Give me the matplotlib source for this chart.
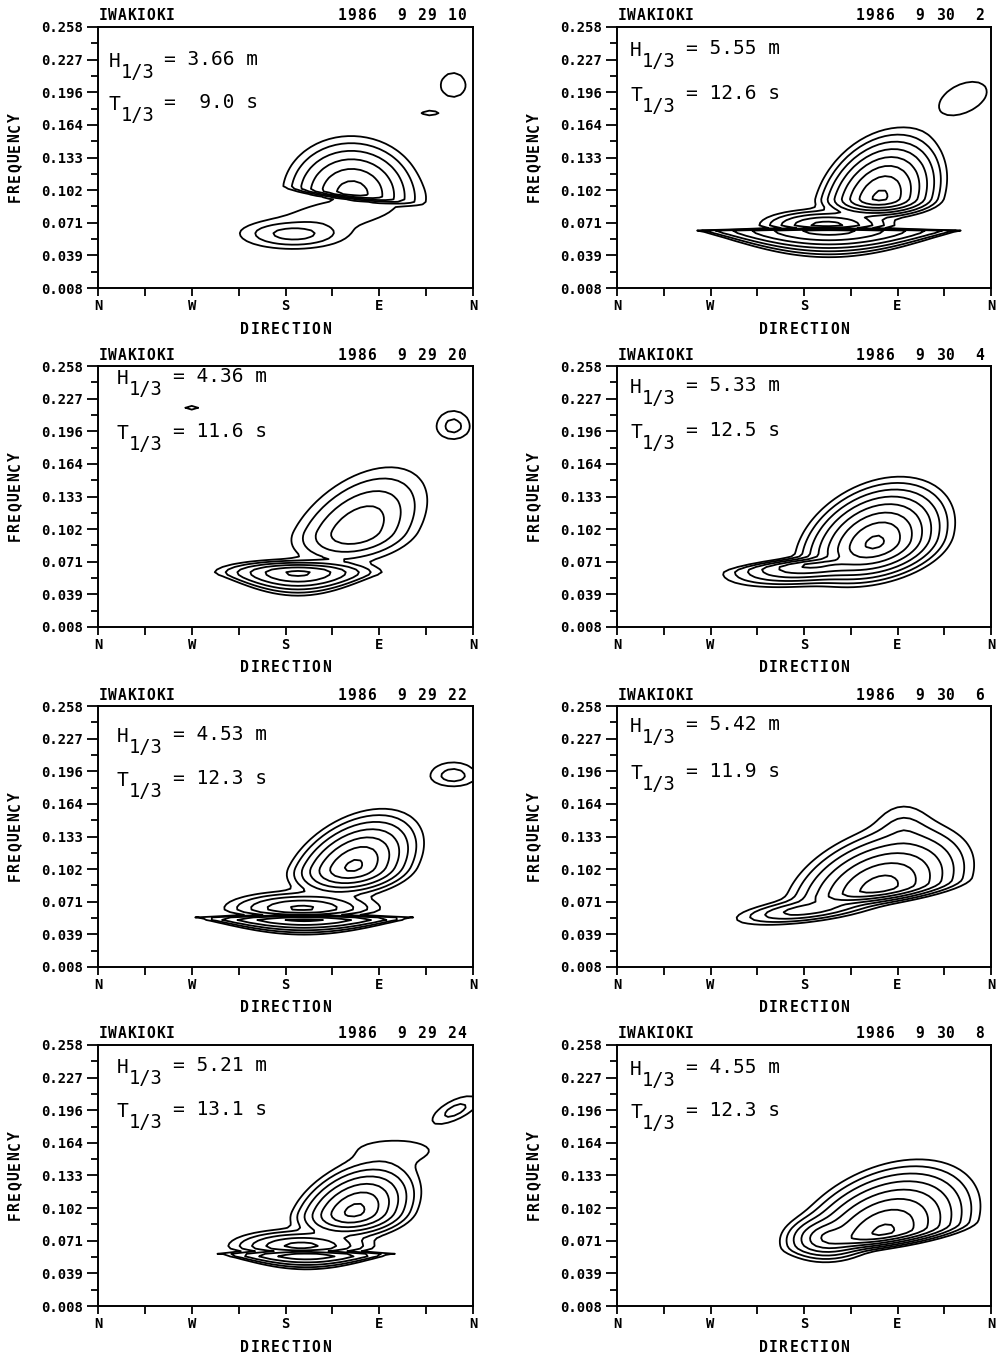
import numpy as np
import matplotlib
matplotlib.use("Agg")
import matplotlib.pyplot as plt

MONO = "DejaVu Sans Mono"
plt.rcParams["font.family"] = MONO
plt.rcParams["font.weight"] = "bold"

station = "IWAKIOKI"
# (month, day, hour) of each record, reading order
stamps = [(9, 29, 10), (9, 30, 2), (9, 29, 20), (9, 30, 4),
          (9, 29, 22), (9, 30, 6), (9, 29, 24), (9, 30, 8)]
h13 = [3.66, 5.55, 4.36, 5.33, 4.53, 5.42, 5.21, 4.55]
t13 = [9.0, 12.6, 11.6, 12.5, 12.3, 11.9, 13.1, 12.3]

freq_ticks = ["0.008", "0.039", "0.071", "0.102", "0.133",
              "0.164", "0.196", "0.227", "0.258"]
dir_ticks = ["N", "W", "S", "E", "N"]

# spectral peaks of each record: direction (deg, N-W-S-E-N), frequency (Hz),
# height in contour steps, reach of the outer contour in direction / above / below,
# lean (deg per Hz), tilt (Hz per deg), pinch half-width (deg) of low-frequency lens
peak_dir = [[244, 188, 232, 341, 318],
            [253, 202, 204, 333],
            [192, 248, 341, 90],
            [248, 190],
            [245, 196, 198, 341],
            [252, 185, 276],
            [246, 285, 195, 200, 343],
            [256, 205]]
peak_freq = [[0.098, 0.060, 0.079, 0.202, 0.1755],
             [0.094, 0.068, 0.0635, 0.189],
             [0.060, 0.100, 0.200, 0.218],
             [0.088, 0.068],
             [0.1036, 0.064, 0.055, 0.191],
             [0.083, 0.063, 0.135],
             [0.098, 0.157, 0.065, 0.0576, 0.195],
             [0.078, 0.074]]
peak_level = [[5.6, 2.6, 0.9, 0.6, 0.3],
              [7.3, 4.5, 6.5, 0.6],
              [5.3, 3.97, 1.5, 0.3],
              [7.3, 5.3],
              [6.3, 4.3, 5.5, 1.6],
              [6.6, 3.8, 1.6],
              [6.4, 0.7, 4.5, 5.0, 1.5],
              [7.3, 5.2]]
reach_dir = [[66, 48, 45, 12, 7],
             [62, 65, 140, 23],
             [80, 60, 16, 6],
             [76, 88],
             [62, 75, 115, 22],
             [90, 70, 25],
             [60, 32, 70, 90, 22],
             [92, 46]]
reach_up = [[0.056, 0.012, 0.016, 0.012, 0.002],
            [0.067, 0.016, 0.0012, 0.015],
            [0.013, 0.061, 0.015, 0.002],
            [0.062, 0.009],
            [0.056, 0.017, 0.0012, 0.013],
            [0.060, 0.012, 0.026],
            [0.052, 0.009, 0.017, 0.0012, 0.011],
            [0.067, 0.024]]
reach_down = [[0.006, 0.014, 0.016, 0.011, 0.002],
              [0.020, 0.005, 0.026, 0.014],
              [0.022, 0.032, 0.012, 0.002],
              [0.040, 0.020],
              [0.030, 0.009, 0.016, 0.010],
              [0.016, 0.012, 0.020],
              [0.028, 0.010, 0.008, 0.0145, 0.009],
              [0.016, 0.024]]
lean = [[150, 0, 1800, 0, 0],
        [280, 0, 0, 0],
        [0, 530, 0, 0],
        [250, 0],
        [500, 0, 0, 0],
        [300, 0, 0],
        [450, 0, 0, 0, 0],
        [280, 0]]
tilt = [[-0.00012, 0, 0, 0, 0],
        [0, 0, 0, 0.0003],
        [0, 0, 0, 0],
        [0.0001, 0.0001],
        [0, 0, 0, 0],
        [0.00012, 0.00012, 0],
        [0, 0, 0, 0, 0.0004],
        [0.00013, 0.00005]]
pinch = [[0, 0, 0, 0, 0],
         [0, 0, 131, 0],
         [92, 0, 0, 0],
         [0, 0],
         [0, 0, 107, 0],
         [0, 0, 0],
         [0, 0, 0, 85, 0],
         [0, 0]]

# H1/3, T1/3 placement inside each panel (axes fraction)
label_x = [0.028, 0.035, 0.05, 0.035, 0.05, 0.035, 0.05, 0.035]
label_hy = [0.846, 0.889, 0.93, 0.897, 0.861, 0.90, 0.893, 0.886]
label_ty = [0.681, 0.716, 0.72, 0.725, 0.695, 0.72, 0.725, 0.72]

dgrid = np.arange(0, 360.1, 6.0)
fgrid = np.linspace(0.008, 0.258, 101)
D, FQ = np.meshgrid(dgrid, fgrid)


def spectrum(i):
    total = np.zeros_like(D)
    for d0, f0, h, rd, ru, rl, ln, tl, pw in zip(
            peak_dir[i], peak_freq[i], peak_level[i], reach_dir[i],
            reach_up[i], reach_down[i], lean[i], tilt[i], pinch[i]):
        s = h ** (2 / 3)
        v = FQ - f0 - tl * (D - d0)
        u = D - d0 - ln * v
        sv = np.where(v > 0, ru, rl) / s
        if pw:
            sv = np.where(v > 0, sv, sv * np.clip(1 - (u / pw) ** 2, 0.02, 1))
        r = np.hypot(u / (rd / s), v / sv)
        total += np.exp(h - r ** 1.5)
    return np.log(total + 1e-30)


def spaced(ax, s, x, y, pitch, ha="left", dx=0, dy=0, rotation=0, size=10):
    n = len(s)
    if ha == "left":
        start = 0.5 * pitch
    elif ha == "right":
        start = -(n - 0.5) * pitch
    else:
        start = -(n - 1) / 2 * pitch
    for k, ch in enumerate(s):
        if ch == " ":
            continue
        off = dx + start + k * pitch
        xy = (off, dy) if rotation == 0 else (dy, off)
        ax.annotate(ch, (x, y), xycoords="axes fraction", xytext=xy,
                    textcoords="offset pixels", ha="center", va="center",
                    rotation=rotation, fontsize=size, fontweight="bold")


fig = plt.figure(figsize=(10, 13.59), dpi=100)
col_left = [98, 617]
col_width = [375, 374]
row_top = [27, 366, 706, 1045]
height = 261

for i in range(8):
    row, col = divmod(i, 2)
    ax = fig.add_axes([col_left[col] / 1000,
                       1 - (row_top[row] + height) / 1359,
                       col_width[col] / 1000, height / 1359])
    ax.contour(D, FQ, spectrum(i), levels=np.arange(0, 9),
               colors="black", linewidths=1.3)
    ax.set_xlim(0, 360)
    ax.set_ylim(0.008, 0.258)

    ax.set_xticks(np.arange(0, 361, 90))
    ax.set_xticklabels(dir_ticks)
    ax.set_xticks(np.arange(45, 360, 90), minor=True)
    ax.set_yticks(0.008 + np.arange(9) / 32)
    ax.set_yticklabels(freq_ticks)
    ax.set_yticks(0.008 + (np.arange(8) + 0.5) / 32, minor=True)
    ax.tick_params(axis="x", which="both", direction="out", length=6,
                   width=1.3, pad=2, labelsize=10)
    ax.tick_params(axis="y", which="major", direction="out", length=8,
                   width=1.3, pad=3, labelsize=10)
    ax.tick_params(axis="y", which="minor", direction="out", length=5,
                   width=1.3)
    for sp in ax.spines.values():
        sp.set_linewidth(1.4)

    m, d, hr = stamps[i]
    spaced(ax, station, 0, 1, 9.6, ha="left", dy=11, size=10.5)
    spaced(ax, f"1986 {m:2d} {d:2d} {hr:2d}", 1, 1, 10, ha="right",
           dx=-6, dy=11, size=10.5)
    spaced(ax, "DIRECTION", 0.5, 0, 10.2, ha="center", dy=-41, size=10.5)
    spaced(ax, "FREQUENCY", 0, 0.5, 10, ha="center", dy=-83,
           rotation=90, size=10.5)

    x0 = label_x[i]
    for yb, sym, txt in [(label_hy[i], "H", f"= {h13[i]:4.2f} m"),
                         (label_ty[i], "T", f"= {t13[i]:4.1f} s")]:
        kw = dict(xycoords="axes fraction", textcoords="offset pixels",
                  va="baseline", fontweight="normal")
        ax.annotate(sym, (x0, yb), xytext=(0, 0), fontsize=14, **kw)
        ax.annotate("1/3", (x0, yb), xytext=(12, -11), fontsize=13.5, **kw)
        ax.annotate(txt, (x0, yb), xytext=(56, 2), fontsize=14, **kw)

fig.savefig("out.png", dpi=100)
